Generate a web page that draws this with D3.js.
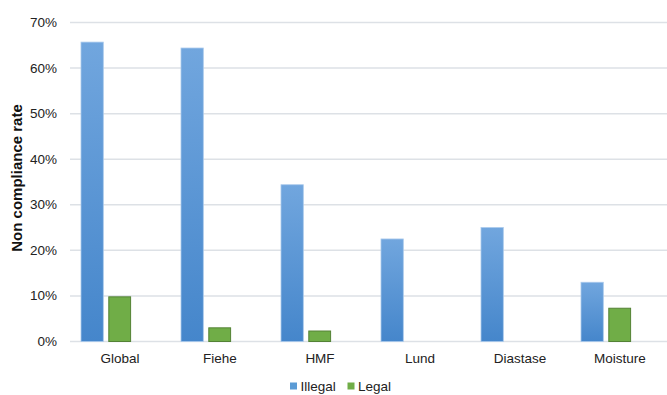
<!DOCTYPE html>
<html><head><meta charset="utf-8">
<script src="https://cdn.jsdelivr.net/npm/d3@7"></script>
<style>body{margin:0;background:#fff}svg{display:block;font-family:"Liberation Sans",Arial,sans-serif}</style>
</head><body>
<svg id="c" width="667" height="395"></svg>
<script>
const categories = ["Global","Fiehe","HMF","Lund","Diastase","Moisture"];
const illegal = [65.7,64.4,34.4,22.5,25.0,13.0];
const legal = [9.8,3.0,2.3,0,0,7.3];
const yTicks = [0,10,20,30,40,50,60,70];
const seriesNames = ["Illegal","Legal"];

(function(){
const svg = d3.select("#c");
const mLeft = 70, mRight = 670, mTop = 22.5, mBottom = 341.5;
const x = d3.scaleBand().domain(categories).range([mLeft,mRight]);
const y = d3.scaleLinear().domain([0,70]).range([mBottom,mTop]);

const defs = svg.append("defs");
const g = defs.append("linearGradient").attr("id","bg").attr("x1",0).attr("y1",0).attr("x2",0).attr("y2",1);
g.append("stop").attr("offset","0%").attr("stop-color","#71a6de");
g.append("stop").attr("offset","100%").attr("stop-color","#4586cb");

svg.append("g").selectAll("line").data(yTicks).join("line")
  .attr("x1",mLeft).attr("x2",mRight).attr("y1",d=>y(d)).attr("y2",d=>y(d))
  .attr("stroke","#dde1e6").attr("stroke-width",1.5);

svg.append("g").selectAll("text").data(yTicks).join("text")
  .attr("x",57).attr("y",d=>y(d)+4.5).attr("text-anchor","end")
  .attr("font-size",13.5).attr("fill","#222").text(d=>d+"%");

const off = 11, slot = 27.3, bw = 22.3;
svg.append("g").selectAll("rect").data(categories).join("rect")
  .attr("x",d=>x(d)+off).attr("width",bw)
  .attr("y",(d,i)=>y(illegal[i])).attr("height",(d,i)=>mBottom-y(illegal[i]))
  .attr("fill","url(#bg)").attr("stroke","#a9c9ec").attr("stroke-width",0.8);

svg.append("g").selectAll("rect").data(categories.filter((d,i)=>legal[i]>0)).join("rect")
  .attr("x",d=>x(d)+off+slot+0.5).attr("width",bw-0.5)
  .attr("y",d=>y(legal[categories.indexOf(d)])).attr("height",d=>mBottom-y(legal[categories.indexOf(d)]))
  .attr("fill","#70ad47").attr("stroke","#548235").attr("stroke-width",1);

svg.append("g").selectAll("text").data(categories).join("text")
  .attr("x",d=>x(d)+x.bandwidth()/2).attr("y",363).attr("text-anchor","middle")
  .attr("font-size",13.5).attr("fill","#222").text(d=>d);

svg.append("text").attr("transform","translate(22,178) rotate(-90)")
  .attr("text-anchor","middle").attr("font-size",15).attr("font-weight","bold")
  .attr("fill","#111").text("Non compliance rate");

const lg = svg.append("g");
const lx = [290,347.5];
const lc = ["#5b9bd5","#70ad47"];
seriesNames.forEach((n,i)=>{
  lg.append("rect").attr("x",lx[i]).attr("y",382.5).attr("width",7).attr("height",7).attr("fill",lc[i]);
  lg.append("text").attr("x",lx[i]+10.5).attr("y",390.5).attr("font-size",13.5).attr("fill","#222").text(n);
});
})();
</script>
</body></html>
